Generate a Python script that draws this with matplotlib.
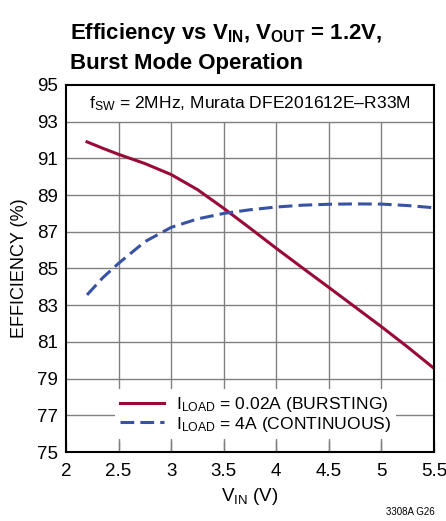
import matplotlib
matplotlib.use("Agg")
import matplotlib.pyplot as plt
from matplotlib import font_manager as fm

fams = {f.name for f in fm.fontManager.ttflist}
narrow = 'Liberation Sans Narrow' if 'Liberation Sans Narrow' in fams else 'Liberation Sans'
plt.rcParams['font.family'] = [narrow, 'DejaVu Sans']
plt.rcParams['mathtext.fontset'] = 'custom'
plt.rcParams['mathtext.rm'] = narrow
plt.rcParams['mathtext.it'] = narrow
plt.rcParams['mathtext.bf'] = narrow + ':bold'

# Data
vin_burst = [2.2, 2.35, 2.5, 2.75, 3.0, 3.25, 3.5, 3.75, 4.0, 4.25, 4.5, 4.75, 5.0, 5.25, 5.5]
eff_burst = [91.9, 91.55, 91.22, 90.72, 90.12, 89.3, 88.28, 87.2, 86.1, 85.03, 83.97, 82.9, 81.83, 80.72, 79.56]
vin_cont = [2.2, 2.35, 2.5, 2.75, 3.0, 3.25, 3.5, 3.75, 4.0, 4.25, 4.5, 4.75, 5.0, 5.25, 5.5]
eff_cont = [83.56, 84.5, 85.28, 86.46, 87.24, 87.7, 88.0, 88.2, 88.35, 88.45, 88.5, 88.52, 88.51, 88.43, 88.31]
label_burst = r'I$_{\mathrm{LOAD}}$ = 0.02A (BURSTING)'
label_cont = r'I$_{\mathrm{LOAD}}$ = 4A (CONTINUOUS)'
xticks = [2, 2.5, 3, 3.5, 4, 4.5, 5, 5.5]
xticklabels = ['2', '2.5', '3', '3.5', '4', '4.5', '5', '5.5']
yticks = [75, 77, 79, 81, 83, 85, 87, 89, 91, 93, 95]

fig = plt.figure(figsize=(4.46, 5.21), dpi=100)
ax = fig.add_axes([0.148, 0.1324, 0.825, 0.7045])
ax.set_xlim(2, 5.5)
ax.set_ylim(75, 95)

grid_c = '#808080'
for y in yticks[1:-1]:
    ax.axhline(y, color=grid_c, lw=1.0, zorder=1)
ax.vlines(xticks[1:-1], 75, 93, color=grid_c, lw=1.0, zorder=1)

ax.plot(vin_burst, eff_burst, color='#9a0a36', lw=2.2, zorder=3, label=label_burst)
ax.plot(vin_cont, eff_cont, color='#3953a4', lw=2.2, dashes=(4.5, 2.0), zorder=3, label=label_cont)

leg = ax.legend(loc='lower center', bbox_to_anchor=(0.515, 0.012), frameon=True,
                fontsize=12.6, handlelength=2.5, handletextpad=0.7, borderpad=0.3,
                labelspacing=0.05, fancybox=False)
leg.get_frame().set_facecolor('white')
leg.get_frame().set_edgecolor('none')
leg.get_frame().set_alpha(1)
leg.set_zorder(5)

ax.text(3.75, 94.0, r'f$_{\mathrm{SW}}$ = 2MHz, Murata DFE201612E–R33M', ha='center', va='center',
        fontsize=12.6, zorder=4)

ax.set_xticks(xticks)
ax.set_xticklabels(xticklabels)
ax.set_yticks(yticks)
ax.tick_params(axis='both', labelsize=13.5, direction='in', length=0, pad=6)
ax.tick_params(axis='x', length=8, width=1, color=grid_c, pad=8)
for s in ax.spines.values():
    s.set_linewidth(1.5)
    s.set_zorder(6)

ax.set_xlabel(r'V$_{\mathrm{IN}}$ (V)', fontsize=13.5, labelpad=4)
ax.set_ylabel('EFFICIENCY (%)', fontsize=13, labelpad=6)

fig.text(0.157, 0.935, r'Efficiency vs V$_{\mathbf{IN}}$, V$_{\mathbf{OUT}}$ = 1.2V,', fontsize=16,
         fontweight='bold', ha='left', va='center')
fig.text(0.157, 0.878, 'Burst Mode Operation', fontsize=16, fontweight='bold', ha='left', va='center')
fig.text(0.975, 0.008, '3308A G26', fontsize=7, ha='right', va='bottom')

fig.savefig('out.png', dpi=100)
